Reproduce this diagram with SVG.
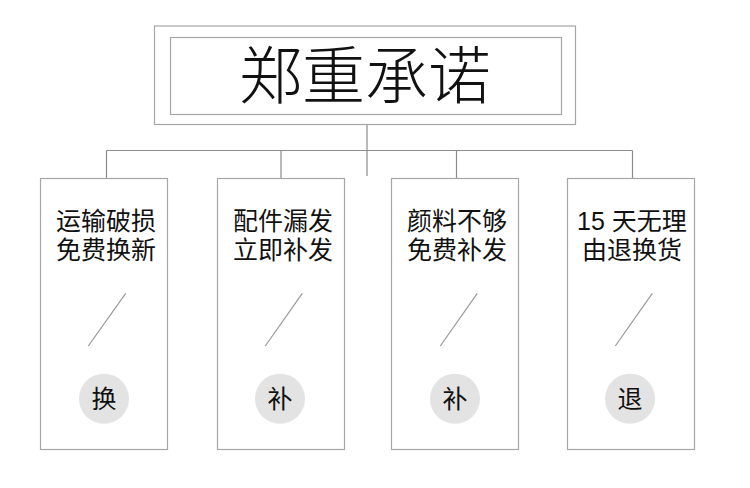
<svg xmlns="http://www.w3.org/2000/svg" width="750" height="488" viewBox="0 0 750 488">
<style>
.box{fill:#fff;stroke:#a6a6a6;stroke-width:1.2}
.conn{stroke:#8c8c8c;stroke-width:1.2;fill:none}
.diag{stroke:#999;stroke-width:1.2}
.t{font-family:"Liberation Sans","Noto Sans CJK SC",sans-serif;fill:#111;text-anchor:middle}
.lbl{font-size:25px;font-weight:400}
.circ{fill:#e3e3e3}
</style>
<rect width="750" height="488" fill="#fff"/>
<g id="connectors">
<line class="conn" x1="367" y1="125" x2="367" y2="176"/>
<line class="conn" x1="106.5" y1="150.5" x2="632.5" y2="150.5"/>
<line class="conn" x1="106.5" y1="150.5" x2="106.5" y2="178"/>
<line class="conn" x1="281" y1="150.5" x2="281" y2="178"/>
<line class="conn" x1="456.5" y1="150.5" x2="456.5" y2="178"/>
<line class="conn" x1="632.5" y1="150.5" x2="632.5" y2="178"/>
</g>
<g id="title">
<rect class="box" x="154.5" y="26" width="421" height="98.5"/>
<rect class="box" x="170.5" y="37.5" width="391" height="77"/>
<text class="t" x="365" y="98" font-size="63" font-weight="300" style="font-family:'Noto Sans CJK SC',sans-serif">郑重承诺</text>
</g>
<g id="node1">
<rect class="box" x="40.5" y="178.5" width="127" height="271"/>
<text class="t lbl" x="106" y="230">运输破损</text>
<text class="t lbl" x="106" y="259">免费换新</text>
<line class="diag" x1="88.3" y1="346" x2="125.7" y2="293.3"/>
<circle class="circ" cx="104" cy="398.7" r="25"/>
<text class="t lbl" x="104" y="407.5">换</text>
</g>
<g id="node2">
<rect class="box" x="217.5" y="178.5" width="127" height="271"/>
<text class="t lbl" x="283" y="230">配件漏发</text>
<text class="t lbl" x="283" y="259">立即补发</text>
<line class="diag" x1="265.3" y1="346" x2="302.3" y2="293.3"/>
<circle class="circ" cx="280" cy="398.7" r="25"/>
<text class="t lbl" x="280" y="407.5">补</text>
</g>
<g id="node3">
<rect class="box" x="391.5" y="178.5" width="127" height="271"/>
<text class="t lbl" x="457" y="230">颜料不够</text>
<text class="t lbl" x="457" y="259">免费补发</text>
<line class="diag" x1="440.3" y1="346" x2="477.3" y2="293.3"/>
<circle class="circ" cx="455" cy="398.7" r="25"/>
<text class="t lbl" x="455" y="407.5">补</text>
</g>
<g id="node4">
<rect class="box" x="567.5" y="178.5" width="127" height="271"/>
<text class="t lbl" x="632" y="230">15 天无理</text>
<text class="t lbl" x="632" y="259">由退换货</text>
<line class="diag" x1="615.3" y1="346" x2="652.3" y2="293.3"/>
<circle class="circ" cx="630" cy="398.7" r="25"/>
<text class="t lbl" x="630" y="407.5">退</text>
</g>
</svg>
